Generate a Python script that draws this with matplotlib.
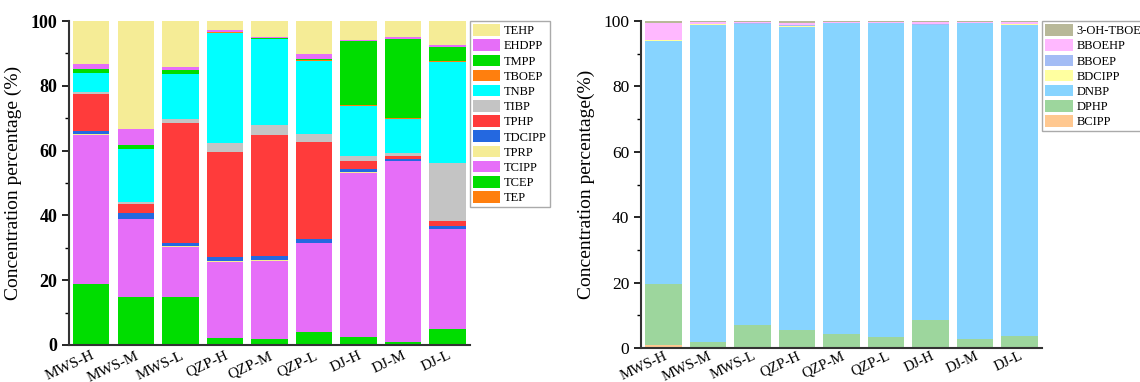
import numpy as np
import matplotlib
matplotlib.use("Agg")
import matplotlib.pyplot as plt
import matplotlib.transforms as mtransforms
from matplotlib.ticker import MultipleLocator

plt.rcParams["font.family"] = ["Liberation Serif", "DejaVu Serif"]

sites = ["MWS-H", "MWS-M", "MWS-L", "QZP-H", "QZP-M", "QZP-L", "DJ-H", "DJ-M", "DJ-L"]

# left chart: tri-esters (%), bottom to top
TEP    = [0.2, 0.1, 0.1, 0.1, 0.1, 0.1, 0.1, 0.1, 0.1]
TCEP   = [18.5, 14.8, 14.6, 2.0, 1.8, 4.0, 2.2, 0.9, 4.8]
TCIPP  = [46.1, 23.9, 15.6, 23.6, 24.1, 27.3, 50.9, 55.8, 30.9]
TPRP   = [0.2, 0.1, 0.1, 0.1, 0.1, 0.1, 0.1, 0.1, 0.1]
TDCIPP = [0.9, 1.8, 1.0, 1.2, 1.5, 1.2, 1.0, 0.5, 0.9]
TPHP   = [11.6, 2.8, 37.2, 32.5, 37.3, 30.1, 2.5, 1.0, 1.6]
TIBP   = [0.7, 0.6, 1.2, 2.9, 3.0, 2.3, 1.6, 1.0, 17.7]
TNBP   = [5.7, 16.4, 13.8, 34.0, 26.4, 22.6, 15.5, 10.5, 31.3]
TBOEP  = [0.2, 0.1, 0.1, 0.1, 0.1, 0.2, 0.3, 0.3, 0.4]
TMPP   = [1.1, 1.0, 1.3, 0.2, 0.3, 0.5, 19.5, 24.2, 4.3]
EHDPP  = [1.5, 5.2, 0.8, 0.5, 0.5, 1.4, 0.5, 0.6, 0.5]
TEHP   = [13.3, 33.2, 14.2, 2.9, 4.8, 10.2, 5.8, 5.0, 7.4]

left_names = ["TEP", "TCEP", "TCIPP", "TPRP", "TDCIPP", "TPHP", "TIBP", "TNBP",
              "TBOEP", "TMPP", "EHDPP", "TEHP"]
left_vals = [TEP, TCEP, TCIPP, TPRP, TDCIPP, TPHP, TIBP, TNBP, TBOEP, TMPP, EHDPP, TEHP]
left_cols = ["#ff7f0e", "#00dd00", "#e66ef8", "#f5ec96", "#2468e0", "#ff3b3b",
             "#c4c4c4", "#00ffff", "#ff7f0e", "#00dd00", "#e66ef8", "#f5ec96"]

# right chart: di-esters (%), bottom to top
BCIPP   = [1.0, 0.4, 0.1, 0.1, 0.1, 0.1, 0.1, 0.3, 0.4]
DPHP    = [18.7, 1.3, 6.8, 5.3, 4.3, 3.3, 8.6, 2.4, 3.2]
DNBP    = [74.3, 97.2, 92.1, 92.9, 94.9, 95.9, 90.1, 96.6, 95.2]
BDCIPP  = [0.1, 0.1, 0.1, 0.1, 0.1, 0.1, 0.1, 0.1, 0.2]
BBOEP   = [0.1, 0.1, 0.2, 0.4, 0.1, 0.1, 0.1, 0.1, 0.1]
BBOEHP  = [5.1, 0.5, 0.4, 0.6, 0.3, 0.2, 0.7, 0.2, 0.7]
OH_TBOEP = [0.7, 0.4, 0.3, 0.6, 0.2, 0.3, 0.3, 0.3, 0.2]

right_names = ["BCIPP", "DPHP", "DNBP", "BDCIPP", "BBOEP", "BBOEHP", "3-OH-TBOEP"]
right_vals = [BCIPP, DPHP, DNBP, BDCIPP, BBOEP, BBOEHP, OH_TBOEP]
right_cols = ["#ffc890", "#9dd69d", "#87d4ff", "#ffffa0", "#a3bcf5", "#ffb8ff", "#b8b899"]


def stack(ax, vals, names, cols, xfs=11, xpad=3):
    x = np.arange(len(sites))
    bottom = np.zeros(len(sites))
    for v, n, c in zip(vals, names, cols):
        v = np.array(v)
        ax.bar(x, v, 0.82, bottom=bottom, color=c, label=n, linewidth=0)
        bottom += v
    ax.set_xlim(-0.5, 8.5)
    ax.set_ylim(0, 100)
    ax.set_xticks(x)
    ax.set_xticklabels(sites, rotation=25, ha="right", rotation_mode="anchor", fontsize=xfs)
    shift = mtransforms.ScaledTranslation(10 / 100, 0, fig.dpi_scale_trans)
    for t in ax.get_xticklabels():
        t.set_transform(t.get_transform() + shift)
    ax.yaxis.set_major_locator(MultipleLocator(20))
    ax.yaxis.set_minor_locator(MultipleLocator(10))
    ax.tick_params(axis="y", which="major", direction="out", length=5, width=1.2)
    ax.tick_params(axis="y", which="minor", direction="out", length=3, width=1)
    ax.tick_params(axis="x", length=0, pad=xpad)
    for s in ["top", "right"]:
        ax.spines[s].set_visible(False)
    for s in ["left", "bottom"]:
        ax.spines[s].set_linewidth(1.5)
        ax.spines[s].set_color("#333333")
    h, l = ax.get_legend_handles_labels()
    leg = ax.legend(h[::-1], l[::-1], loc="upper left", bbox_to_anchor=(1.0, 1.0),
                    borderaxespad=0.0, fontsize=9, handlelength=2.2, handleheight=1.05,
                    labelspacing=0.17, handletextpad=0.3, borderpad=0.25,
                    fancybox=False, framealpha=1)
    leg.get_frame().set_edgecolor("#aaaaaa")
    leg.get_frame().set_linewidth(1)
    return leg


fig = plt.figure(figsize=(11.4, 3.82), dpi=100)
ax1 = fig.add_axes([0.0605, 0.097, 0.3515, 0.848])
ax2 = fig.add_axes([0.5625, 0.089, 0.3515, 0.856])

stack(ax1, left_vals, left_names, left_cols)
stack(ax2, right_vals, right_names, right_cols, xfs=10.5, xpad=1)

ax1.set_ylabel("Concentration percentage (%)", fontsize=14, labelpad=6)
ax2.set_ylabel("Concentration percentage(%)", fontsize=14, labelpad=6)
for t in ax1.get_yticklabels():
    t.set_fontweight("bold")
    t.set_fontsize(13)
for t in ax2.get_yticklabels():
    t.set_fontsize(12.5)

fig.savefig("out.png", dpi=100)
